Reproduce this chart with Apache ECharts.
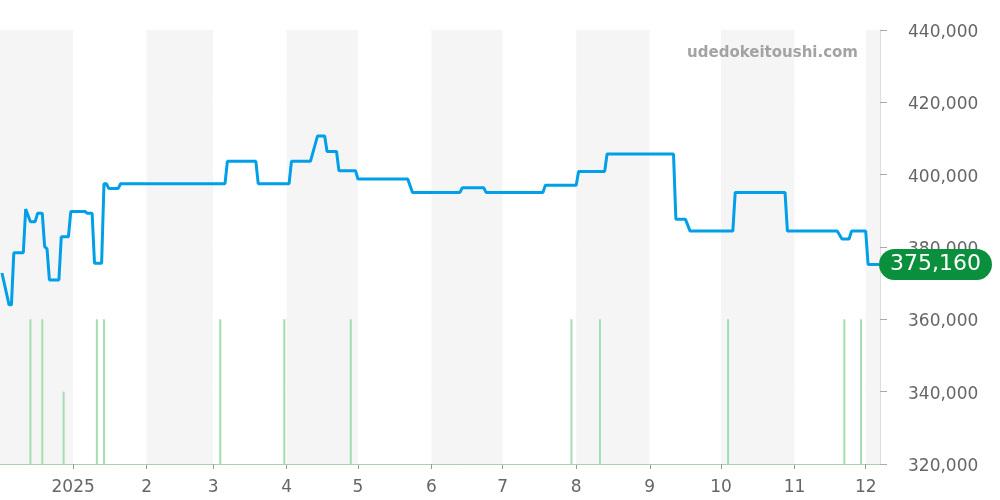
<!DOCTYPE html>
<html>
<head>
<meta charset="utf-8">
<script src="https://cdn.jsdelivr.net/npm/echarts@6/dist/echarts.min.js"></script>
<style>
  html, body { margin: 0; padding: 0; background: #fff; }
  #chart { width: 1000px; height: 500px; }
</style>
</head>
<body>
<div id="chart"></div>
<script>
// ---- Data ----
const priceDates = [
  '2024-12-02','2024-12-05','2024-12-06','2024-12-07','2024-12-11','2024-12-12',
  '2024-12-14','2024-12-16','2024-12-17','2024-12-19','2024-12-20','2024-12-21',
  '2024-12-22','2024-12-26','2024-12-27','2024-12-30','2024-12-31','2025-01-06',
  '2025-01-07','2025-01-09','2025-01-10','2025-01-13','2025-01-14','2025-01-15',
  '2025-01-16','2025-01-20','2025-01-21','2025-03-06','2025-03-07','2025-03-19',
  '2025-03-20','2025-04-02','2025-04-03','2025-04-11','2025-04-14','2025-04-17',
  '2025-04-18','2025-04-22','2025-04-23','2025-04-30','2025-05-01','2025-05-22',
  '2025-05-24','2025-06-13','2025-06-14','2025-06-23','2025-06-24','2025-07-18',
  '2025-07-19','2025-08-01','2025-08-02','2025-08-13','2025-08-14','2025-09-11',
  '2025-09-12','2025-09-16','2025-09-18','2025-10-06','2025-10-07','2025-10-28',
  '2025-10-29','2025-11-19','2025-11-21','2025-11-24','2025-11-25','2025-12-01',
  '2025-12-02','2025-12-06 14:24'
];
const priceValues = [
  372800, 364000, 364000, 378400, 378400, 390500,
  387000, 387000, 389300, 389300, 380100, 379500,
  370900, 370900, 382800, 382800, 389800, 389800,
  389300, 389300, 375500, 375500, 397500, 397500,
  396200, 396200, 397500, 397500, 403700, 403700,
  397500, 397500, 403700, 403700, 410700, 410700,
  406400, 406400, 401100, 401100, 398800, 398800,
  395100, 395100, 396400, 396400, 395100, 395100,
  397100, 397100, 400900, 400900, 405700, 405700,
  387700, 387700, 384400, 384400, 395100, 395100,
  384400, 384400, 382200, 382200, 384400, 384400,
  375160, 375160
];

const barDates = [
  '2024-12-14','2024-12-19','2024-12-28','2025-01-11','2025-01-14','2025-03-04',
  '2025-03-31','2025-04-28','2025-07-30','2025-08-11','2025-10-04','2025-11-22',
  '2025-11-29'
];
const barValues = [2, 2, 1, 2, 2, 2, 2, 2, 2, 2, 2, 2, 2];

const xMin = '2024-12-01 14:24';
const xMax = '2025-12-06 14:24';
const yMin = 320000, yMax = 440000, yStep = 20000;
const barAxisMax = 6;
const watermark = 'udedokeitoushi.com';

// ---- Chart ----
const chart = echarts.init(document.getElementById('chart'), null, { renderer: 'canvas' });
const fmt = v => echarts.format.addCommas(v);

chart.setOption({
  animation: false,
  backgroundColor: '#ffffff',
  textStyle: { fontFamily: 'DejaVu Sans' },
  title: {
    text: watermark,
    right: 137,
    top: 41,
    textStyle: { fontSize: 15, fontWeight: 'bold', color: '#a3a3a3', fontFamily: 'DejaVu Sans' }
  },
  grid: { left: 0, right: 120, top: 30, bottom: 36, containLabel: false },
  xAxis: {
    type: 'time',
    min: xMin,
    max: xMax,
    splitNumber: 12,
    axisLine: { show: true, lineStyle: { color: '#bbbbbb', width: 1 } },
    axisTick: { show: true, length: 5, lineStyle: { color: '#999999' } },
    axisLabel: {
      fontSize: 17,
      color: '#666666',
      margin: 15,
      formatter: function (value) {
        const d = new Date(value);
        return d.getMonth() === 0 ? String(d.getFullYear()) : String(d.getMonth() + 1);
      }
    },
    splitLine: { show: false },
    splitArea: { show: true, areaStyle: { color: ['#f5f5f5', '#ffffff'] } }
  },
  yAxis: [
    {
      type: 'value',
      position: 'right',
      min: yMin,
      max: yMax,
      interval: yStep,
      axisLine: { show: true, lineStyle: { color: '#dddddd' } },
      axisTick: { show: true, length: 7, lineStyle: { color: '#aaaaaa' } },
      axisLabel: { fontSize: 17, color: '#666666', margin: 28, verticalAlign: 'top', lineHeight: 5, formatter: fmt },
      splitLine: { show: true, lineStyle: { color: '#e3e3e3' } }
    },
    {
      type: 'value',
      min: 0,
      max: barAxisMax,
      show: false,
      splitLine: { show: false }
    }
  ],
  series: [
    {
      type: 'bar',
      yAxisIndex: 1,
      barWidth: 2,
      itemStyle: { color: '#a3ddb0' },
      data: barDates.map((d, i) => [d, barValues[i]]),
      markLine: {
        silent: true,
        symbol: 'none',
        label: { show: false },
        lineStyle: { type: 'dotted', color: '#a3ddb0', width: 1 },
        data: [{ yAxis: 0 }]
      },
      z: 2
    },
    {
      type: 'line',
      showSymbol: false,
      symbol: 'none',
      lineStyle: { width: 3, color: '#00a0e9' },
      itemStyle: { color: '#00a0e9' },
      data: priceDates.map((d, i) => [d, priceValues[i]]),
      endLabel: {
        show: true,
        distance: 0,
        formatter: p => fmt(p.value[1]),
        color: '#ffffff',
        fontSize: 22,
        lineHeight: 24,
        backgroundColor: '#0a8f3c',
        borderRadius: 16,
        padding: [4, 11, 3, 11]
      },
      z: 5
    }
  ]
});
</script>
</body>
</html>
